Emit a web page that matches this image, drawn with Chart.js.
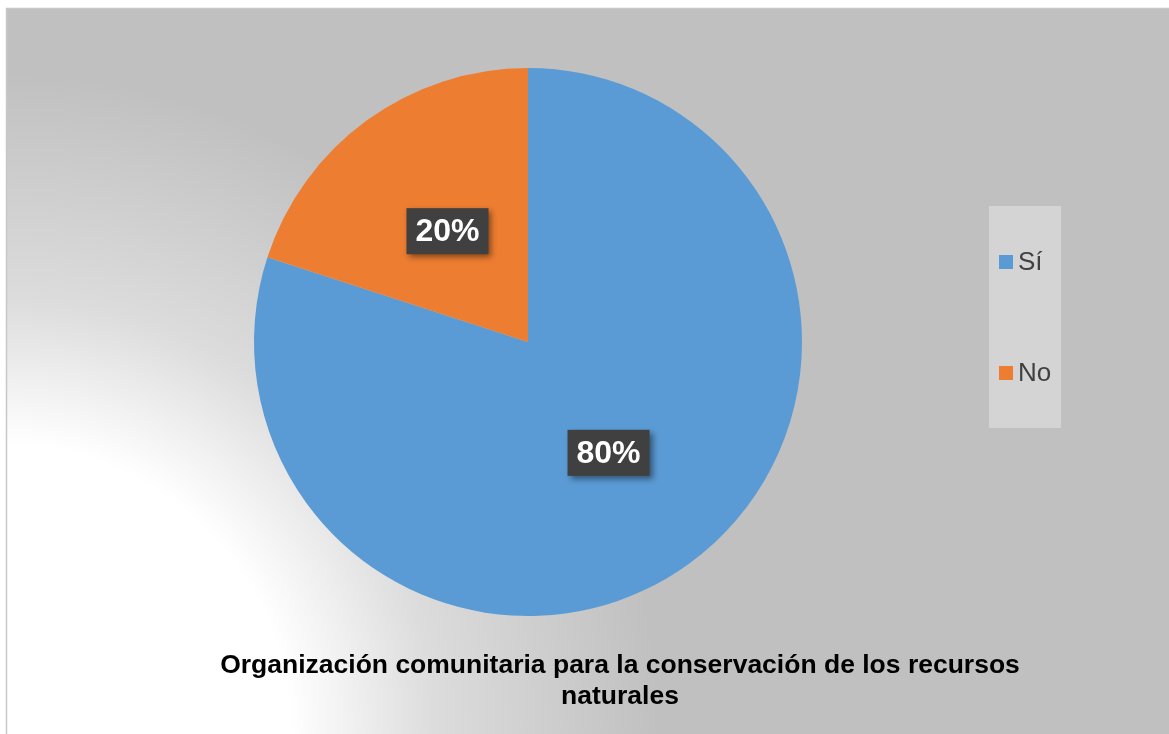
<!DOCTYPE html>
<html>
<head>
<meta charset="utf-8">
<script src="https://cdn.jsdelivr.net/npm/chart.js@4/dist/chart.umd.min.js"></script>
<style>
  html, body { margin: 0; padding: 0; background: #ffffff; }
  #wrap { position: absolute; left: 0; top: 0; width: 1169px; height: 734px; }
</style>
</head>
<body>
<div id="wrap"><canvas id="c" width="1169" height="734"></canvas></div>
<script>
const categories = ["Sí", "No"];
const values = [80, 20];
const valueLabels = ["80%", "20%"];
const colors = ["#5B9BD5", "#ED7D31"];
const titleLines = ["Organización comunitaria para la conservación de los recursos", "naturales"];

const bgPlugin = {
  id: 'bg',
  beforeDraw(chart) {
    const ctx = chart.ctx;
    ctx.save();
    ctx.fillStyle = '#ffffff';
    ctx.fillRect(0, 0, chart.width, chart.height);
    const g = ctx.createRadialGradient(0, 734, 0, 0, 734, 660);
    g.addColorStop(0, '#ffffff');
    g.addColorStop(0.44, '#ffffff');
    g.addColorStop(0.66, '#dcdcdc');
    g.addColorStop(1, '#c0c0c0');
    ctx.fillStyle = g;
    ctx.fillRect(7, 9, chart.width - 7, chart.height - 9);
    ctx.strokeStyle = '#c8c8c8';
    ctx.lineWidth = 1.5;
    ctx.beginPath();
    ctx.moveTo(6.5, 734);
    ctx.lineTo(6.5, 8.5);
    ctx.lineTo(1169, 8.5);
    ctx.stroke();
    ctx.restore();
  }
};

const overlayPlugin = {
  id: 'overlay',
  afterDatasetsDraw(chart) {
    const ctx = chart.ctx;
    const meta = chart.getDatasetMeta(0);
    ctx.save();
    // data labels
    ctx.font = 'bold 32px "Liberation Sans", Arial, sans-serif';
    ctx.textAlign = 'center';
    ctx.textBaseline = 'middle';
    meta.data.forEach((arc, i) => {
      const p = arc.tooltipPosition();
      const w = 82, h = 46;
      const x = p.x - w / 2, y = p.y - h / 2;
      ctx.save();
      ctx.shadowColor = 'rgba(0,0,0,0.45)';
      ctx.shadowBlur = 6;
      ctx.shadowOffsetX = 3;
      ctx.shadowOffsetY = 3;
      ctx.fillStyle = '#404040';
      ctx.fillRect(x, y, w, h);
      ctx.restore();
      ctx.fillStyle = '#ffffff';
      ctx.fillText(valueLabels[i], p.x, p.y + 1);
    });
    // legend
    ctx.fillStyle = '#d4d4d4';
    ctx.fillRect(989, 206, 72, 222);
    ctx.font = '26px "Liberation Sans", Arial, sans-serif';
    ctx.textAlign = 'left';
    const ly = [262, 373];
    categories.forEach((c, i) => {
      ctx.fillStyle = colors[i];
      ctx.fillRect(999, ly[i] - 7, 14, 14);
      ctx.fillStyle = '#404040';
      ctx.fillText(c, 1018, ly[i] + 1);
    });
    // title
    ctx.fillStyle = '#000000';
    ctx.font = 'bold 26.5px "Liberation Sans", Arial, sans-serif';
    ctx.textAlign = 'center';
    ctx.fillText(titleLines[0], 620, 666);
    ctx.fillText(titleLines[1], 620, 697);
    ctx.restore();
  }
};

new Chart(document.getElementById('c'), {
  type: 'pie',
  data: {
    labels: categories,
    datasets: [{
      data: values,
      backgroundColor: colors,
      borderWidth: 0
    }]
  },
  options: {
    responsive: false,
    animation: false,
    layout: { padding: { left: 254, right: 367, top: 68, bottom: 118 } },
    plugins: {
      legend: { display: false },
      title: { display: false },
      tooltip: { enabled: false }
    }
  },
  plugins: [bgPlugin, overlayPlugin]
});
</script>
</body>
</html>
